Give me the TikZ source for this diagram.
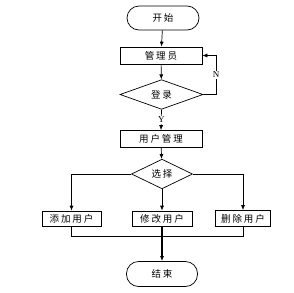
\documentclass[tikz,border=0pt]{standalone}
\usepackage{fontspec}
\setmainfont{Liberation Serif}
\newfontfamily\cjk[LetterSpace=20]{Noto Sans CJK SC}
\usetikzlibrary{shapes.geometric,arrows.meta}
\begin{document}
\begin{tikzpicture}[x=1pt,y=-1pt,
  line width=0.7pt,
  every node/.style={font=\cjk\fontsize{9.5}{10}\selectfont, inner sep=0pt},
  term/.style={draw, rectangle, rounded corners=12pt, minimum width=72pt, minimum height=24pt, fill=white},
  proc/.style={draw, rectangle, minimum width=82pt, minimum height=17pt, fill=white},
  small/.style={draw, rectangle, minimum height=15pt, fill=white},
  dec/.style={draw, diamond, fill=white},
  arr/.style={-{Latex[length=5pt,width=4pt]}},
  lbl/.style={font=\fontsize{9}{10}\selectfont}
]
\useasboundingbox (0,0) rectangle (294,292);
\node[term] (start) at (163,18) {开始};
\node[proc] (admin) at (161,55.5) {管理员};
\node[dec, minimum width=83pt, minimum height=27pt] (login) at (161.5,94.5) {登录};
\node[proc] (mgmt) at (161,139) {用户管理};
\node[dec, minimum width=61pt, minimum height=18pt] (sel) at (162,174) {选择};
\node[small, minimum width=59pt] (add) at (71.5,218.5) {添加用户};
\node[small, minimum width=60pt] (mod) at (162,218.5) {修改用户};
\node[small, minimum width=55pt, minimum height=16pt] (del) at (243,218.5) {删除用户};
\node[term, minimum width=71pt, minimum height=25pt] (end) at (162,274) {结束};
\coordinate (merge) at (162,236);
\coordinate (loopc) at (216,94.5);
\coordinate (looptop) at (216,55.5);

\draw[arr] (start) -- (admin);
\draw[arr] (admin) -- (login);
\draw[arr] (login.east) -- (loopc) -- node[lbl, pos=0.5, fill=white, inner sep=1pt] {N} (looptop) -- (admin.east);
\draw[arr] (login.south) -- node[lbl, fill=white, inner sep=1pt] {Y} (mgmt.north);
\draw[arr] (mgmt) -- (sel);
\draw[arr] (sel.west) -| (add.north);
\draw[arr] (sel.east) -| (del.north);
\draw[arr] (sel.south) -- (mod.north);
\draw (add.south) |- (merge);
\draw (del.south) |- (merge);
\draw[arr, line width=1.2pt] (mod.south) -- (end.north);
\end{tikzpicture}
\end{document}
